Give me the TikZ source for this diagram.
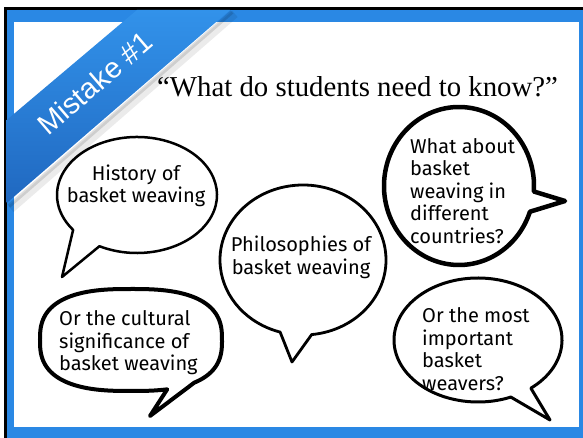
\documentclass[tikz,border=0pt]{standalone}
\usepackage{fontspec}
\setmainfont{Liberation Serif}
\newfontfamily\handfont{Fira Sans}
\newfontfamily\ribbonfont{Liberation Sans}
\usetikzlibrary{calc}
\definecolor{frameblue}{RGB}{42,136,228}
\definecolor{ribbonlight}{RGB}{50,146,234}
\definecolor{ribbondark}{RGB}{32,104,192}
\tikzset{
  bub/.style={draw=black, fill=white, line join=round, line width=#1},
  bub/.default=2.5pt,
  bubtext/.style={font=\handfont\fontsize{20}{22.5}\selectfont, inner sep=0pt},
}
\newcommand\speechbubble[8]{%
  % #1 name, #2 center, #3 rx, #4 ry, #5 start angle, #6 end angle, #7 tip, #8 line width
  \coordinate (#1) at #2;
  \coordinate (#1tip) at #7;
  \draw[bub=#8] ($(#1)+(#5:#3 and #4)$)
     arc[start angle=#5, end angle=#6, x radius=#3, y radius=#4]
     -- (#1tip) -- cycle;}
\begin{document}
\begin{tikzpicture}[x=1pt,y=1pt]
\useasboundingbox (0,0) rectangle (583,438);
% frame
\fill[white] (0,0) rectangle (583,438);
\fill[black] (4,0) rectangle (583,431);
\fill[frameblue] (6.7,0) rectangle (583,428);
\fill[white] (14,11) rectangle (579,416);

% ribbon shadow
\draw[black, opacity=0.12, line width=4pt] (232,426) -- (9,232);
\draw[black, opacity=0.08, line width=8pt] (235,424) -- (11,229);
% ribbon
\shade[top color=ribbonlight, bottom color=ribbondark]
  (137,428) -- (230,428) -- (6.7,235) -- (6.7,318) -- cycle;
\node[rotate=40.7, text=white, inner sep=0pt,
      font=\ribbonfont\fontsize{29}{29}\selectfont] (ribbon) at (95,355) {Mistake \#1};

% title
\node[anchor=base west, inner sep=0pt, font=\fontsize{28.8}{30}\selectfont]
  (title) at (157,341) {“What do students need to know?”};

% bubbles
\speechbubble{b1}{(137,243)}{80pt}{58pt}{242}{577}{(62,161)}{2.5pt}
\speechbubble{b2}{(303,178)}{83pt}{75pt}{276}{614}{(292,76)}{2.8pt}
\speechbubble{b3}{(459,252)}{75pt}{79pt}{-4}{341}{(565,237)}{4.5pt}
\coordinate (b4) at (131,98);
\coordinate (b4tip) at (150,22);
\draw[bub=4pt] plot[domain=308:647, samples=140, variable=\t]
  ({131+91*(cos(\t)<0?-1:1)*pow(abs(cos(\t))+0.00001,0.75)},
   {98+51*(sin(\t)<0?-1:1)*pow(abs(sin(\t))+0.00001,0.75)})
  -- (b4tip) -- cycle;
\speechbubble{b5}{(478,98)}{84pt}{62pt}{309}{653}{(550,18)}{3pt}

% bubble texts
\node[bubtext, align=center] (t1) at (136,252) {History of\\basket weaving};
\node[bubtext, align=center] (t2) at (301,180.5) {Philosophies of\\basket weaving};
\node[bubtext, align=left, anchor=west] (t3) at (410,247)
  {What about\\basket\\weaving in\\different\\countries?};
\node[bubtext, align=left, anchor=west] (t4) at (59,95)
  {Or the cultural\\significance of\\basket weaving};
\node[bubtext, align=left, anchor=west] (t5) at (422,89)
  {Or the most\\important\\basket\\weavers?};
\end{tikzpicture}
\end{document}
